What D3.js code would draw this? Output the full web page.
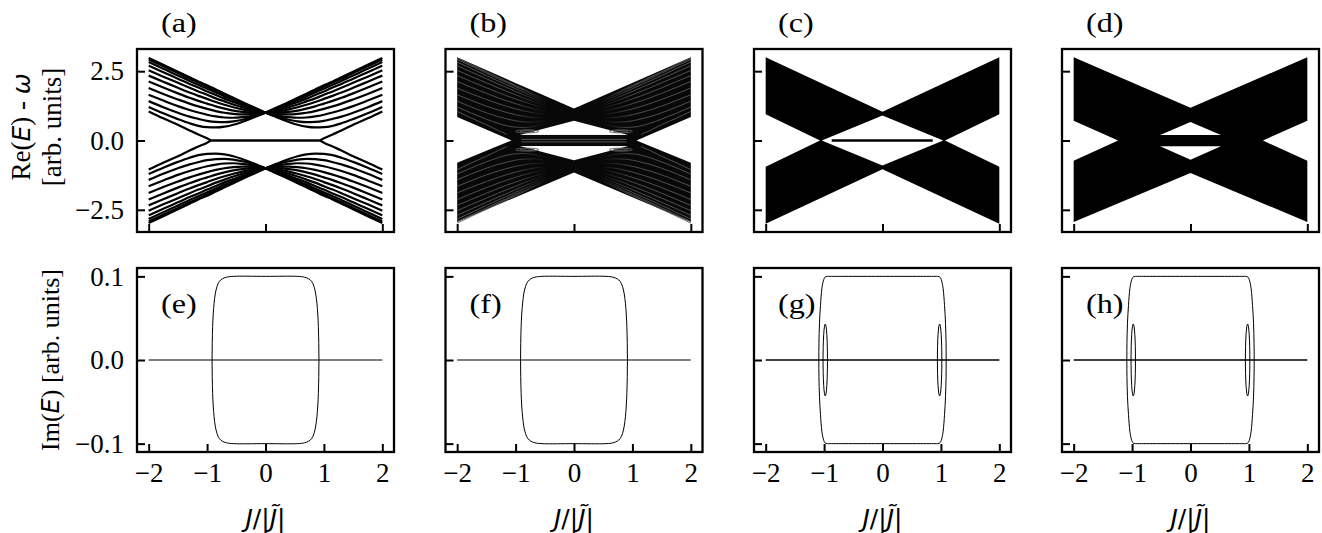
<!DOCTYPE html>
<html>
<head>
<meta charset="utf-8">
<script src="https://cdn.jsdelivr.net/npm/d3@7"></script>
<style>
  body { margin: 0; background: #fff; }
  svg { display: block; background: #fff; }
</style>
</head>
<body>
<div id="chart"></div>
<script>
// ------------------- DATA -------------------

// J/|J~| sample points for the upper-left branch of every bulk level
const jGrid = [-2, -1.75, -1.5, -1.3, -1.15, -1, -0.85, -0.7, -0.55, -0.4, -0.2, 0];

// panel (a): Re(E) of the bulk levels on the upper-left branch (outermost first)
const bulkRe = [
  [2.98, 2.73, 2.48, 2.28, 2.13, 1.99, 1.84, 1.69, 1.54, 1.39, 1.20, 1],
  [2.92, 2.68, 2.43, 2.23, 2.09, 1.94, 1.80, 1.65, 1.51, 1.37, 1.18, 1],
  [2.83, 2.59, 2.34, 2.15, 2.01, 1.87, 1.73, 1.59, 1.46, 1.33, 1.16, 1],
  [2.70, 2.46, 2.23, 2.04, 1.91, 1.77, 1.64, 1.51, 1.39, 1.27, 1.13, 1],
  [2.53, 2.30, 2.08, 1.90, 1.77, 1.65, 1.52, 1.41, 1.30, 1.20, 1.09, 1],
  [2.34, 2.12, 1.90, 1.73, 1.61, 1.50, 1.39, 1.29, 1.20, 1.12, 1.04, 1],
  [2.13, 1.91, 1.70, 1.54, 1.43, 1.33, 1.23, 1.15, 1.08, 1.03, 1.00, 1],
  [1.89, 1.68, 1.48, 1.33, 1.23, 1.14, 1.06, 1.00, 0.96, 0.94, 0.95, 1],
  [1.65, 1.44, 1.24, 1.10, 1.01, 0.93, 0.87, 0.83, 0.82, 0.84, 0.90, 1],
  [1.42, 1.20, 1.00, 0.86, 0.78, 0.71, 0.67, 0.66, 0.69, 0.75, 0.86, 1],
  [1.21, 0.98, 0.77, 0.62, 0.53, 0.48, 0.47, 0.50, 0.57, 0.67, 0.83, 1]
];

// the level that turns into the zero mode
const edgeJ  = [-2, -1.75, -1.5, -1.3, -1.15, -1, -0.93];
const edgeRe = [1.05, 0.80, 0.57, 0.36, 0.22, 0.08, 0];
const zeroModeJ = [-0.93, 0.93];

// panels (b)-(d): outline of the filled spectrum [J, Re(E)] and the white holes in it
const outlineB = [[-2, 3.0], [0, 1.15], [2, 3.0], [2, 0.85], [1.07, 0], [2, -0.8], [2, -2.94],
                  [0, -1.15], [-2, -2.94], [-2, -0.8], [-1.07, 0], [-2, 0.85]];
const holesB = [[[-0.93, 0.2], [0, 0.71], [0.93, 0.2]], [[-0.93, -0.2], [0, -0.71], [0.93, -0.2]]];
const barB = {j: [-1.0, 1.0], e: [-0.2, 0.2], grey: [-0.05, 0.04]};
const ringsB = [[-0.8, 0.33, 0.2, 0.055], [-0.8, 0.33, 0.12, 0.03], [0.8, 0.33, 0.2, 0.055], [0.8, 0.33, 0.12, 0.03],
                [-0.8, -0.33, 0.2, 0.055], [-0.8, -0.33, 0.12, 0.03], [0.8, -0.33, 0.2, 0.055], [0.8, -0.33, 0.12, 0.03]];

const outlineC = [[-2, 3.0], [0, 1.04], [2, 3.0], [2, 0.95], [1.07, 0], [2, -0.95], [2, -3.0],
                  [0, -1.04], [-2, -3.0], [-2, -0.95], [-1.07, 0], [-2, 0.95]];
const holesC = [[[-1.04, 0], [0, 0.9], [1.04, 0], [0, -0.9]]];
const zeroLineC = [-0.87, 0.86];

const outlineD = [[-2, 3.0], [0, 1.18], [2, 3.0], [2, 0.71], [1.24, 0], [2, -0.73], [2, -2.94],
                  [0, -1.17], [-2, -2.94], [-2, -0.73], [-1.24, 0], [-2, 0.71]];
const holesD = [[[-0.52, 0.2], [0, 0.67], [0.52, 0.2]], [[-0.52, -0.21], [0, -0.69], [0.52, -0.21]]];

// bottom row: Im(E) loop, upper-left quarter, from Im = 0 up to the top at J = 0
const loopEJ  = [-0.915, -0.912, -0.905, -0.895, -0.88, -0.86, -0.83, -0.79, -0.74, -0.67, -0.55, 0];
const loopEIm = [0, 0.02, 0.04, 0.055, 0.068, 0.079, 0.088, 0.094, 0.097, 0.099, 0.1, 0.1];
const loopGJ  = [-1.09, -1.088, -1.079, -1.062, -1.039, -1.015, -0.995, -0.975, -0.95, -0.9, 0];
const loopGIm = [0, 0.02, 0.044, 0.065, 0.085, 0.094, 0.098, 0.0995, 0.1, 0.1, 0.1];
// small loops of (g), (h): [J centre, half width, half height]
const smallLoops = [[-0.98, 0.038, 0.043], [0.978, 0.038, 0.043]];
const realLineJ = [-2, 2];

// ticks and labels
const topLabels = ["(a)", "(b)", "(c)", "(d)"];
const bottomLabels = ["(e)", "(f)", "(g)", "(h)"];
const reTicks = [-2.5, 0, 2.5];
const imTicks = [-0.1, 0, 0.1];
const jTicksTop = [-2, 0, 2];
const jTicksBottom = [-2, -1, 0, 1, 2];

// ------------------- LAYOUT -------------------
const W = 1322, H = 533;
const panelLeft = [137, 445.5, 754, 1062];
const panelW = 257;
const rows = [{top: 49, bottom: 232, domain: [-3.3, 3.3]}, {top: 268, bottom: 452, domain: [-0.11, 0.11]}];
const serif = "Liberation Serif, Times New Roman, serif";
const sans = "DejaVu Sans, sans-serif";

const svg = d3.select("#chart").append("svg")
              .attr("width", W)
              .attr("height", H);
const defs = svg.append("defs");

const line = d3.line();

function ring(pts, x, y) {
  return line(pts.map(p => [x(p[0]), y(p[1])])) + "Z";
}

// the four symmetric copies (J -> -J, E -> -E) of a branch
function mirrors(pts) {
  return [pts, pts.map(p => [-p[0], p[1]]), pts.map(p => [p[0], -p[1]]), pts.map(p => [-p[0], -p[1]])];
}

function fullLoop(js, ims) {
  const q = js.map((j, i) => [j, ims[i]]);
  const top = q.concat(q.slice(0, -1).reverse().map(p => [-p[0], p[1]]));
  const bottom = top.slice(1, -1).reverse().map(p => [p[0], -p[1]]);
  return top.concat(bottom);
}

function makePanel(col, r) {
  const L = panelLeft[col], R = rows[r];
  const x = d3.scaleLinear().domain([-2.2, 2.2]).range([L, L + panelW]);
  const y = d3.scaleLinear().domain(R.domain).range([R.bottom, R.top]);
  const id = "clip" + r + col;
  defs.append("clipPath").attr("id", id)
      .append("rect").attr("x", L).attr("y", R.top).attr("width", panelW).attr("height", R.bottom - R.top);
  const g = svg.append("g").attr("clip-path", `url(#${id})`);
  return {g, x, y, L, R};
}

function drawAxes(p, r, col) {
  const yTicks = r === 0 ? reTicks : imTicks;
  const xTicks = r === 0 ? jTicksTop : jTicksBottom;
  const ya = d3.axisLeft(p.y).tickValues(yTicks).tickSize(-8).tickPadding(13)
               .tickFormat(col === 0 ? d3.format(".1f") : "");
  const xa = d3.axisBottom(p.x).tickValues(xTicks).tickSize(-8).tickPadding(11)
               .tickFormat(r === 1 ? d3.format("d") : "");
  [[ya, `translate(${p.L},0)`], [xa, `translate(0,${p.R.bottom})`]].forEach(([ax, tr]) => {
    svg.append("g").attr("transform", tr).call(ax)
       .attr("font-family", serif).attr("font-size", 27)
       .call(s => s.select(".domain").remove())
       .call(s => s.selectAll("line").attr("stroke-width", 2))
       .call(s => s.selectAll("text").attr("fill", "#000"));
  });
  svg.append("rect")
     .attr("x", p.L).attr("y", p.R.top)
     .attr("width", panelW).attr("height", p.R.bottom - p.R.top)
     .attr("fill", "none").attr("stroke", "#000").attr("stroke-width", 2.3);
}

const smooth = d3.line().curve(d3.curveMonotoneX);

function drawBranches(g, p, branches, stroke, width) {
  branches.forEach(b => {
    g.append("path")
     .attr("d", smooth(b.map(q => [p.x(q[0]), p.y(q[1])])))
     .attr("fill", "none").attr("stroke", stroke).attr("stroke-width", width);
  });
}

// -------------------------- PANEL (a) --------------------------
const pa = makePanel(0, 0);
bulkRe.forEach(row => {
  drawBranches(pa.g, pa, mirrors(jGrid.map((j, i) => [j, row[i]])), "#000", 2.2);
});
drawBranches(pa.g, pa, mirrors(edgeJ.map((j, i) => [j, edgeRe[i]])), "#000", 2.2);
pa.g.append("line")
    .attr("x1", pa.x(zeroModeJ[0])).attr("x2", pa.x(zeroModeJ[1]))
    .attr("y1", pa.y(0)).attr("y2", pa.y(0))
    .attr("stroke", "#000").attr("stroke-width", 2.6);

// -------------------------- PANEL (b) --------------------------
const pb = makePanel(1, 0);
pb.g.append("path")
    .attr("d", [outlineB].concat(holesB).map(h => ring(h, pb.x, pb.y)).join(""))
    .attr("fill", "#080808").attr("fill-rule", "evenodd");

// grey moire stripes fade out towards the band crossing
const grad = defs.append("linearGradient").attr("id", "fadeGrad")
                 .attr("gradientUnits", "userSpaceOnUse")
                 .attr("x1", pb.x(-2.2)).attr("x2", pb.x(2.2)).attr("y1", 0).attr("y2", 0);
[[-2.2, 1], [-1.0, 0.9], [-0.45, 0], [0.45, 0], [1.0, 0.9], [2.2, 1]].forEach(([j, o]) => {
  grad.append("stop").attr("offset", (pb.x(j) - pb.x(-2.2)) / panelW)
      .attr("stop-color", "#fff").attr("stop-opacity", o);
});
defs.append("mask").attr("id", "fadeB")
    .append("rect").attr("x", pb.L).attr("y", pb.R.top).attr("width", panelW)
    .attr("height", pb.R.bottom - pb.R.top).attr("fill", "url(#fadeGrad)");
const stripes = pb.g.append("g").attr("mask", "url(#fadeB)");
bulkRe.forEach(row => {
  drawBranches(stripes, pb, mirrors(jGrid.slice(0, 10).map((j, i) => [j, row[i]])), "#5c5c5c", 0.9);
});
drawBranches(stripes, pb, mirrors(edgeJ.slice(0, 5).map((j, i) => [j, edgeRe[i]])), "#5c5c5c", 0.9);
pb.g.append("rect")
    .attr("x", pb.x(barB.j[0])).attr("width", pb.x(barB.j[1]) - pb.x(barB.j[0]))
    .attr("y", pb.y(barB.e[1])).attr("height", pb.y(barB.e[0]) - pb.y(barB.e[1]))
    .attr("fill", "#080808");
barB.grey.forEach(e => {
  pb.g.append("line")
      .attr("x1", pb.x(barB.j[0] + 0.1)).attr("x2", pb.x(barB.j[1] - 0.1))
      .attr("y1", pb.y(e)).attr("y2", pb.y(e))
      .attr("stroke", "#555").attr("stroke-width", 1);
});
ringsB.forEach(([j, e, rj, re]) => {
  pb.g.append("ellipse")
      .attr("cx", pb.x(j)).attr("cy", pb.y(e))
      .attr("rx", pb.x(j + rj) - pb.x(j)).attr("ry", pb.y(e) - pb.y(e + re))
      .attr("fill", "none").attr("stroke", "#5a5a5a").attr("stroke-width", 0.9);
});

// -------------------------- PANEL (c) --------------------------
const pc = makePanel(2, 0);
pc.g.append("path")
    .attr("d", [outlineC].concat(holesC).map(h => ring(h, pc.x, pc.y)).join(""))
    .attr("fill", "#000").attr("fill-rule", "evenodd");
pc.g.append("line")
    .attr("x1", pc.x(zeroLineC[0])).attr("x2", pc.x(zeroLineC[1]))
    .attr("y1", pc.y(0)).attr("y2", pc.y(0))
    .attr("stroke", "#000").attr("stroke-width", 2.4);

// -------------------------- PANEL (d) --------------------------
const pd = makePanel(3, 0);
pd.g.append("path")
    .attr("d", [outlineD].concat(holesD).map(h => ring(h, pd.x, pd.y)).join(""))
    .attr("fill", "#000").attr("fill-rule", "evenodd");

// ----------------------- PANELS (e)-(h) ------------------------
const loopLine = d3.line().curve(d3.curveCatmullRomClosed.alpha(0.5));
const bottomPanels = [0, 1, 2, 3].map(col => makePanel(col, 1));
bottomPanels.forEach((p, col) => {
  p.g.append("line")
     .attr("x1", p.x(realLineJ[0])).attr("x2", p.x(realLineJ[1]))
     .attr("y1", p.y(0)).attr("y2", p.y(0))
     .attr("stroke", "#000").attr("stroke-width", col < 2 ? 1 : 1.3);
  const pts = col < 2 ? fullLoop(loopEJ, loopEIm) : fullLoop(loopGJ, loopGIm);
  p.g.append("path")
     .attr("d", loopLine(pts.map(q => [p.x(q[0]), p.y(q[1])])))
     .attr("fill", "none").attr("stroke", "#000").attr("stroke-width", 1);
  if (col >= 2) {
    smallLoops.forEach(([j, rj, ri]) => {
      p.g.append("ellipse")
         .attr("cx", p.x(j)).attr("cy", p.y(0))
         .attr("rx", p.x(j + rj) - p.x(j)).attr("ry", p.y(0) - p.y(ri))
         .attr("fill", "none").attr("stroke", "#000").attr("stroke-width", 1);
    });
  }
});

// --------------------------- AXES ------------------------------
[pa, pb, pc, pd].forEach((p, col) => drawAxes(p, 0, col));
bottomPanels.forEach((p, col) => drawAxes(p, 1, col));

// --------------------------- TEXT ------------------------------
function panelLabel(t, x, y) {
  svg.append("text").attr("transform", `translate(${x},${y}) scale(1.15,1)`)
     .attr("font-family", serif).attr("font-size", 28).text(t);
}
topLabels.forEach((t, col) => panelLabel(t, panelLeft[col] + 24, 32));
bottomLabels.forEach((t, col) => panelLabel(t, panelLeft[col] + 24, 313));

// y labels
const yl1 = svg.append("g").attr("transform", "translate(30,127) rotate(-90)")
               .attr("font-family", serif).attr("font-size", 27).attr("text-anchor", "middle");
const l1 = yl1.append("text").attr("y", 0);
l1.append("tspan").text("Re(");
l1.append("tspan").attr("font-family", sans).attr("font-style", "italic").attr("font-size", 25).text("E");
l1.append("tspan").text(") - ");
l1.append("tspan").attr("font-family", sans).attr("font-style", "italic").attr("font-size", 25).text("ω");
yl1.append("text").attr("y", 31).text("[arb. units]");

const yl2 = svg.append("g").attr("transform", "translate(59,360) rotate(-90)")
               .attr("font-family", serif).attr("font-size", 26).attr("text-anchor", "middle");
const l2 = yl2.append("text");
l2.append("tspan").text("Im(");
l2.append("tspan").attr("font-family", sans).attr("font-style", "italic").attr("font-size", 24).text("E");
l2.append("tspan").text(") [arb. units]");

// x labels
bottomPanels.forEach(p => {
  const t = svg.append("text").attr("x", p.x(0)).attr("y", 527)
               .attr("font-family", sans).attr("font-size", 25).attr("text-anchor", "middle");
  t.append("tspan").attr("font-style", "italic").text("J");
  t.append("tspan").text("/|");
  t.append("tspan").attr("font-style", "italic").text("J\u0303");
  t.append("tspan").text("|");
});
</script>
</body>
</html>
